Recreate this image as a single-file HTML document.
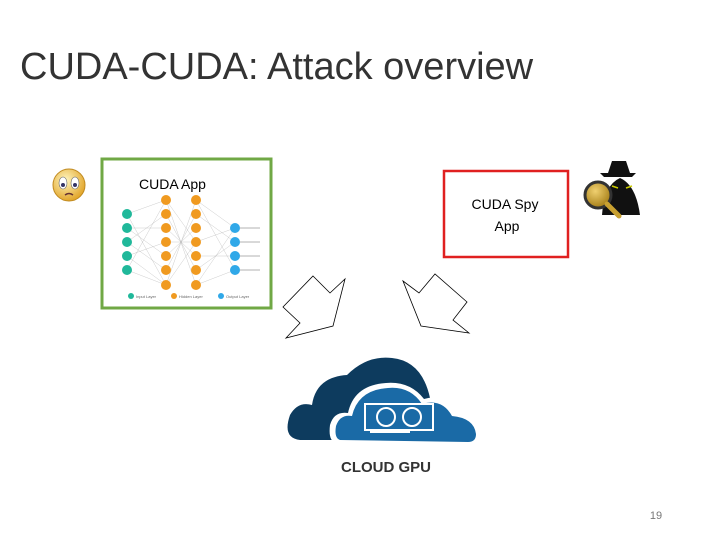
<!DOCTYPE html>
<html><head><style>
body{margin:0;width:720px;height:540px;background:#fff;overflow:hidden;position:relative;font-family:"Liberation Sans",sans-serif}
.t{position:absolute;left:20px;top:46px;font-size:38px;color:#333;font-family:"Liberation Sans",sans-serif;font-weight:normal;letter-spacing:0px}
</style></head><body>
<div class="t">CUDA-CUDA: Attack overview</div>
<svg width="720" height="540" style="position:absolute;left:0;top:0">
<defs><radialGradient id="e" cx="0.4" cy="0.35" r="0.7"><stop offset="0" stop-color="#fff6c0"/><stop offset="1" stop-color="#e0a020"/></radialGradient>
<radialGradient id="m" cx="0.4" cy="0.35" r="0.7"><stop offset="0" stop-color="#f0d070"/><stop offset="1" stop-color="#a07810"/></radialGradient></defs>
<circle cx="69" cy="185" r="16" fill="url(#e)" stroke="#c08a20"/>
<ellipse cx="63" cy="183" rx="4" ry="6" fill="#fff" stroke="#666" stroke-width=".6"/><ellipse cx="75" cy="183" rx="4" ry="6" fill="#fff" stroke="#666" stroke-width=".6"/>
<circle cx="63" cy="185" r="2" fill="#336"/><circle cx="75" cy="185" r="2" fill="#336"/>
<path d="M65 195 q4 -3 8 0" stroke="#633" stroke-width="1.5" fill="none"/>
<rect x="102" y="159" width="169" height="149" fill="#fff" stroke="#70a845" stroke-width="3"/>
<text x="139" y="189" font-size="14" fill="#000">CUDA App</text>
<g stroke="#aaa" stroke-width=".3">
<path d="M127 214L166 200M127 214L166 285M127 270L166 200M127 270L166 285M127 228L166 256M127 242L166 214M127 256L166 242M127 242L166 270M127 228L166 228M127 256L166 285
M166 200L196 285M166 285L196 200M166 214L196 270M166 270L196 214M166 228L196 256M166 256L196 228M166 242L196 242M166 200L196 242M166 285L196 242
M196 200L235 228M196 285L235 270M196 200L235 270M196 285L235 228M196 214L235 242M196 256L235 256M196 242L235 228M196 270L235 242"/>
</g>
<g stroke="#666" stroke-width=".5"><path d="M240 228h20M240 242h20M240 256h20M240 270h20"/></g>
<g fill="#20b89a"><circle cx="127" cy="214" r="5"/><circle cx="127" cy="228" r="5"/><circle cx="127" cy="242" r="5"/><circle cx="127" cy="256" r="5"/><circle cx="127" cy="270" r="5"/></g>
<g fill="#f09a20"><circle cx="166" cy="200" r="5"/><circle cx="166" cy="214" r="5"/><circle cx="166" cy="228" r="5"/><circle cx="166" cy="242" r="5"/><circle cx="166" cy="256" r="5"/><circle cx="166" cy="270" r="5"/><circle cx="166" cy="285" r="5"/>
<circle cx="196" cy="200" r="5"/><circle cx="196" cy="214" r="5"/><circle cx="196" cy="228" r="5"/><circle cx="196" cy="242" r="5"/><circle cx="196" cy="256" r="5"/><circle cx="196" cy="270" r="5"/><circle cx="196" cy="285" r="5"/></g>
<g fill="#30a8e8"><circle cx="235" cy="228" r="5"/><circle cx="235" cy="242" r="5"/><circle cx="235" cy="256" r="5"/><circle cx="235" cy="270" r="5"/></g>
<circle cx="131" cy="296" r="3" fill="#20b89a"/><circle cx="174" cy="296" r="3" fill="#f09a20"/><circle cx="221" cy="296" r="3" fill="#30a8e8"/>
<g font-size="4" fill="#666"><text x="136" y="298">Input Layer</text><text x="179" y="298">Hidden Layer</text><text x="226" y="298">Output Layer</text></g>
<rect x="444" y="171" width="124" height="86" fill="#fff" stroke="#e02020" stroke-width="2.5"/>
<text x="505" y="209" font-size="14" text-anchor="middle" fill="#000">CUDA Spy</text>
<text x="507" y="231" font-size="14" text-anchor="middle" fill="#000">App</text>
<path d="M608 173 l4 -12 h14 l4 12 h6 l-4 4 h-28 l-4 -4z" fill="#111"/>
<path d="M602 215 q2 -30 18 -37 q16 7 20 37z" fill="#111"/>
<path d="M612 186 l6 2 M626 188 l6 -2" stroke="#cc0" stroke-width="1.5"/>
<circle cx="598" cy="195" r="13" fill="url(#m)" stroke="#333" stroke-width="3"/>
<path d="M607 204 l12 12" stroke="#c8a030" stroke-width="5" stroke-linecap="round"/>
<polygon points="313,276 330,293 345,279 333,326 286,338 300,323 283,307" fill="#fff" stroke="#000" stroke-width=".8"/>
<polygon points="403,281 419,293 435,274 467,302 453,320 469,333 421,326" fill="#fff" stroke="#000" stroke-width=".8"/>
<path d="M300 440 q-18 -2 -10 -25 q8 -14 22 -10 q4 -28 35 -30 q20 -20 45 -17 q30 3 38 40 v42z" fill="#0d3b5e"/>
<path d="M336 443 q-8 -2 -6 -18 q4 -14 18 -12 q6 -28 38 -30 q24 -2 38 16 q20 -6 32 12 q24 2 26 20 q0 12 -10 12z" fill="#fff"/>
<path d="M340 440 q-6 -2 -4 -14 q4 -12 16 -10 q6 -26 36 -28 q22 -2 34 16 q20 -6 30 12 q22 2 24 18 q0 8 -8 8z" fill="#1a6aa6"/>
<rect x="365" y="404" width="68" height="26" fill="none" stroke="#fff" stroke-width="2"/>
<circle cx="386" cy="417" r="9" fill="none" stroke="#fff" stroke-width="2"/><circle cx="412" cy="417" r="9" fill="none" stroke="#fff" stroke-width="2"/>
<path d="M370 432 h40" stroke="#fff" stroke-width="2"/>
<text x="386" y="472" font-size="15" font-weight="bold" text-anchor="middle" fill="#333">CLOUD GPU</text>
<text x="656" y="519" font-size="11" text-anchor="middle" fill="#777">19</text>
</svg>
</body></html>
